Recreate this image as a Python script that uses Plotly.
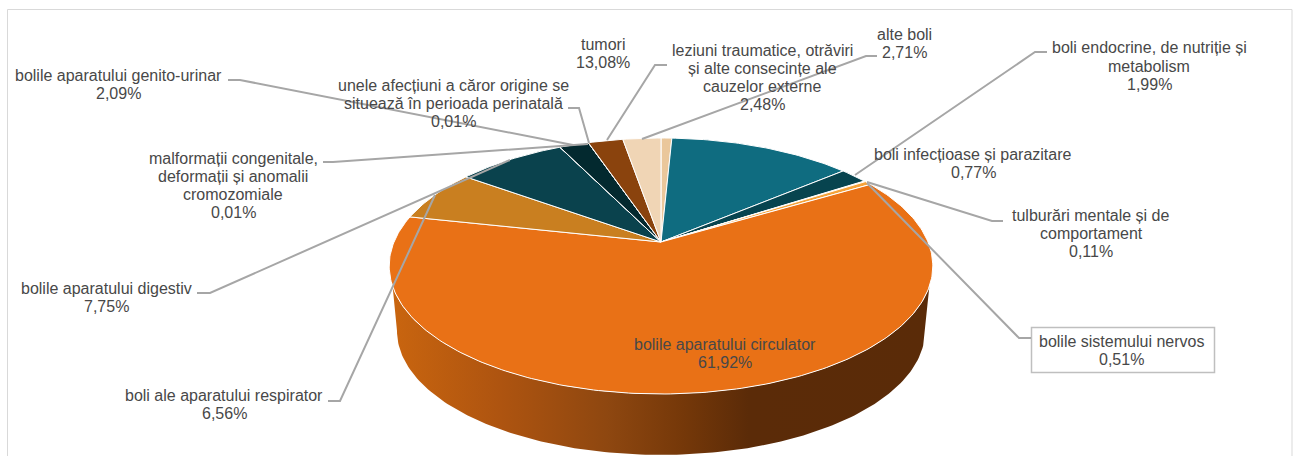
import math
import plotly.graph_objects as go

# ---- data: slices clockwise from 12 o'clock ----
labels = [
    "boli infecțioase și parazitare",
    "tumori",
    "boli endocrine, de nutriție și<br>metabolism",
    "tulburări mentale și de<br>comportament",
    "bolile sistemului nervos",
    "bolile aparatului circulator",
    "boli ale aparatului respirator",
    "bolile aparatului digestiv",
    "malformații congenitale,<br>deformații și anomalii<br>cromozomiale",
    "bolile aparatului genito-urinar",
    "unele afecțiuni a căror origine se<br>situează în perioada perinatală",
    "leziuni traumatice, otrăviri<br>și alte consecințe ale<br>cauzelor externe",
    "alte boli",
]
values = [0.77, 13.08, 1.99, 0.11, 0.51, 61.92, 6.56, 7.75, 0.01, 2.09, 0.01, 2.48, 2.71]
colors = ["#EAC79B", "#0F6C80", "#07444F", "#F5A33A", "#F5A33A", "#E97116", "#C97F20",
          "#0A424D", "#0A424D", "#03292F", "#03292F", "#8A430D", "#F0D5B5"]

# ---- layout of label blocks (centre x, centre y) ----
label_pos = [(973, 163.5), (603, 53.5), (1149, 66), (1091, 233.5), (1121, 350.5), (725, 353.5),
             (224, 404.5), (106, 297.5), (233, 185.5), (118, 84.5), (453, 103.5), (762, 77.5), (904, 43.5)]
LINE_STEP = 18.3

# leader lines: label side -> knee -> slice
leaders = [
    [(1047, 52), (1035, 52), (855, 175)],
    [(1003, 221), (992, 221), (867, 182)],
    [(1031, 338), (1019, 338), (867, 183)],
    [(328, 401), (340, 401), (435, 195)],
    [(197, 293), (210, 293), (510, 160)],
    [(323, 162), (333, 162), (588, 144)],
    [(228, 80), (240, 80), (573, 145)],
    [(568, 108), (579, 108), (589, 143)],
    [(667, 65), (655, 65), (607, 140)],
    [(877, 56), (866, 56), (642, 139)],
]

# ---- perspective geometry of the disc ----
CX, CY = 661, 242
PERSP, KY, DX = 0.1875, 123.5, 267
ELL_CY, ELL_RX, ELL_RY = 266, 272, 128
BOT_CY, BOT_RX, BOT_RY = 331, 264, 124


def project(frac):
    a = 2 * math.pi * frac
    u, v = math.sin(a), math.cos(a)
    w = 1 + PERSP * v
    return CX + DX * u / w, CY - KY * v / w


fig = go.Figure()

# side wall, with a horizontal gradient
t0 = math.asin(21 / 128)
n = 160
top = [(t0 + (math.pi - 2 * t0) * i / n) for i in range(n + 1)]
wall_x = [661 - ELL_RX * math.cos(t) for t in top]
wall_y = [ELL_CY + ELL_RY * math.sin(t) for t in top]
for i in range(n, -1, -1):
    t = math.pi * i / n
    wall_x.append(661 - BOT_RX * math.cos(t))
    wall_y.append(BOT_CY + BOT_RY * math.sin(t))
fig.add_trace(go.Scatter(
    x=wall_x, y=wall_y, mode="lines", fill="toself", line=dict(width=0),
    fillgradient=dict(type="horizontal", start=392, stop=932, colorscale=[
        [0.0, "#C9650F"], [0.2, "#AE5410"], [0.4, "#8E4710"], [0.54, "#753809"],
        [0.66, "#5B2B08"], [1.0, "#5A2B08"]]),
    hoverinfo="skip", showlegend=False))

# top face
total = sum(values)
cum = 0.0
for name, val, col in zip(labels, values, colors):
    start, end = cum / total, (cum + val) / total
    cum += val
    steps = max(2, int(val * 4))
    pts = [project(start + (end - start) * i / steps) for i in range(steps + 1)]
    xs = [CX] + [p[0] for p in pts] + [CX]
    ys = [CY] + [p[1] for p in pts] + [CY]
    fig.add_trace(go.Scatter(
        x=xs, y=ys, mode="lines", fill="toself", fillcolor=col,
        line=dict(color="white", width=1), name=name.replace("<br>", " "),
        text=f"{val:.2f}%", hoverinfo="name+text", hoveron="fills", showlegend=False))

# leader lines
for pts in leaders:
    fig.add_trace(go.Scatter(
        x=[p[0] for p in pts], y=[p[1] for p in pts], mode="lines",
        line=dict(color="#A6A6A6", width=2), hoverinfo="skip", showlegend=False))

# labels, one annotation per text line so the line pitch is exact
for name, val, (lx, ly) in zip(labels, values, label_pos):
    pct = f"{val:.2f}".replace(".", ",") + "%"
    lines = name.split("<br>") + [pct]
    for i, line in enumerate(lines):
        fig.add_annotation(
            x=lx, y=ly + LINE_STEP * (i - (len(lines) - 1) / 2), text=line, showarrow=False,
            xanchor="center", yanchor="middle", align="center",
            font=dict(family="Liberation Sans", size=16, color="#484848"))

fig.update_layout(
    width=1293, height=456, margin=dict(l=0, r=0, t=0, b=0),
    paper_bgcolor="white", plot_bgcolor="white", showlegend=False,
    xaxis=dict(range=[0, 1293], visible=False, fixedrange=True),
    yaxis=dict(range=[456, 0], visible=False, fixedrange=True),
    shapes=[
        dict(type="rect", xref="x", yref="y", x0=7.5, y0=9.5, x1=1292, y1=480,
             line=dict(color="#D9D9D9", width=1), layer="below"),
        dict(type="rect", xref="x", yref="y", x0=1031.5, y0=327.5, x1=1214.5, y1=372.5,
             line=dict(color="#BFBFBF", width=1.5), fillcolor="white", layer="between"),
    ])

fig.write_html("out.html", config={"displayModeBar": False},
               post_script="document.body.style.margin='0';document.body.style.overflow='hidden';")
